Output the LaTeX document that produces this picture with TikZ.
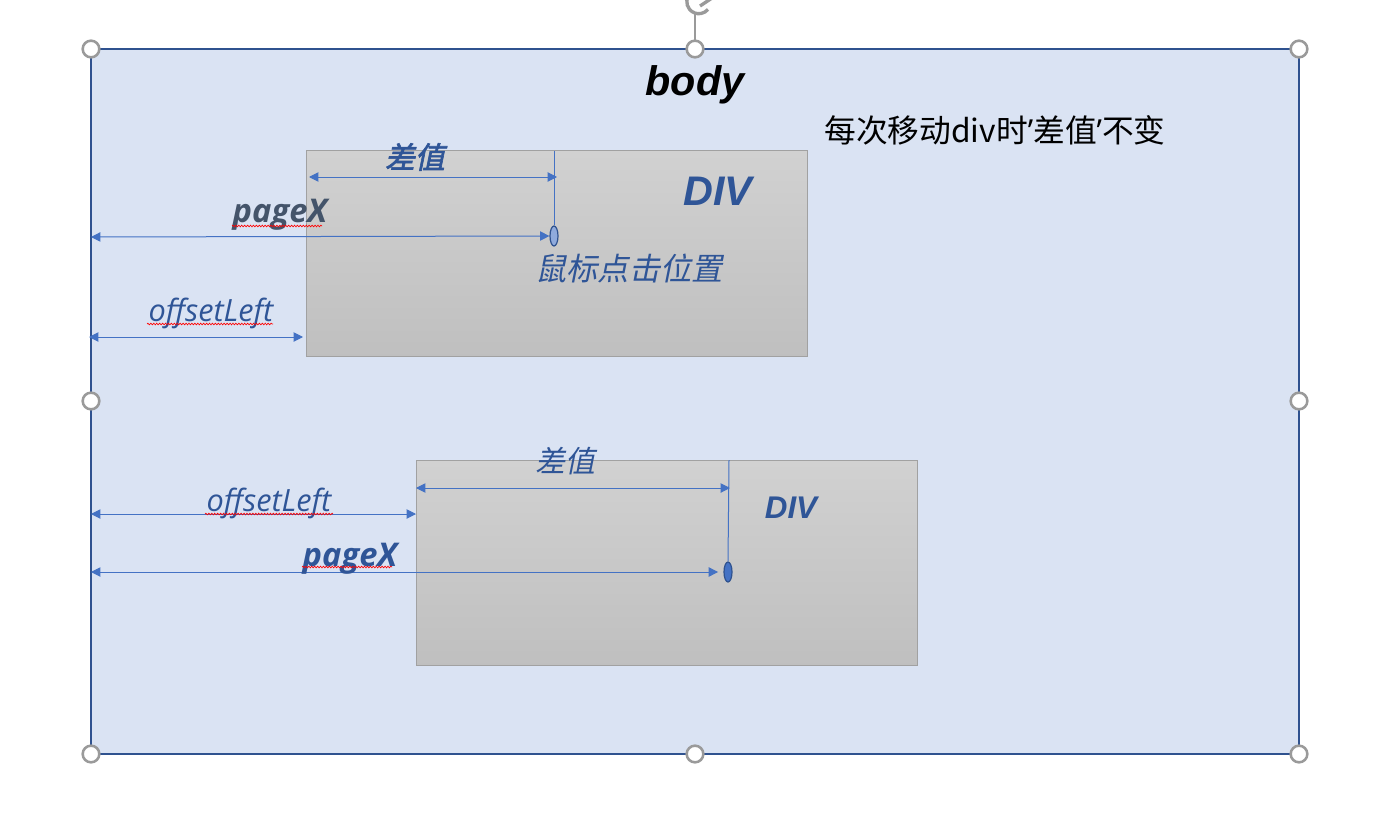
\documentclass[tikz,border=0pt]{standalone}
\usepackage{fontspec}
\usetikzlibrary{arrows.meta,decorations.pathmorphing,shapes.geometric}
\setmainfont{Open Sans}
\newfontfamily\cjk{Noto Sans CJK SC}
\newfontfamily\cjkit[FakeSlant=0.2]{Noto Sans CJK SC}
\newfontfamily\cjkbi[FakeSlant=0.2,FakeBold=2]{Noto Sans CJK SC}
\newfontfamily\lab{Open Sans}
\newfontfamily\divf{Liberation Sans}
\definecolor{bodyfill}{HTML}{DAE3F3}
\definecolor{bodyline}{HTML}{2F528F}
\definecolor{arrowc}{HTML}{4472C4}
\definecolor{labc}{HTML}{2F5597}
\definecolor{labg}{HTML}{44546A}
\definecolor{handlec}{HTML}{9A9A9A}
\tikzset{
  bodybox/.style={fill=bodyfill,draw=bodyline,line width=1.1pt},
  divbox/.style={top color=black!18,bottom color=black!25,draw=black!37,line width=0.75pt},
  handle/.style={circle,draw=handlec,fill=white,line width=1.9pt,minimum size=12.5pt,inner sep=0pt},
  dim/.style={draw=arrowc,line width=0.75pt,{Triangle[length=7pt,width=7pt]}-{Triangle[length=7pt,width=7pt]}},
  vline/.style={draw=arrowc,line width=0.75pt},
  clickpt/.style={ellipse,draw=bodyline,line width=0.9pt,minimum width=6pt,minimum height=15pt,inner sep=0pt},
  squig/.style={draw=red,line width=0.5pt,decorate,decoration={snake,segment length=2.2pt,amplitude=0.6pt}},
  cjklab/.style={inner sep=0pt,text=labc,font=\cjkit\fontsize{22.5}{26}\selectfont},
  cjkblab/.style={inner sep=0pt,text=labc,font=\cjkbi\fontsize{22.5}{26}\selectfont},
  offlab/.style={inner sep=0pt,anchor=base,text=labc,font=\lab\itshape\fontsize{23}{27}\selectfont},
  pxlab/.style={inner sep=0pt,anchor=base,font=\lab\bfseries\itshape\fontsize{24.5}{28}\selectfont},
}
\begin{document}
\begin{tikzpicture}[x=0.75pt,y=-0.75pt]
\useasboundingbox (0,0) rectangle (1394,831);
\fill[white] (0,0) rectangle (1394,831);
% rotation handle
\draw[handlec,line width=1.5pt] (695,49) -- (695,12);
\draw[handlec,line width=2.5pt] (708,-6) arc[start angle=-40,end angle=-320,radius=12];
\draw[handlec,line width=2.5pt] (700,6) -- (712,-2);
% body
\draw[bodybox] (91,49) rectangle (1299,754);
\node[inner sep=0pt,anchor=base,font=\divf\bfseries\itshape\fontsize{31}{34}\selectfont] (bodylab) at (695,96) {body};
\node[inner sep=0pt,font=\cjk\fontsize{23.8}{28}\selectfont,anchor=west] (note) at (824,130) {每次移动div时{\lab ’}差值{\lab ’}不变};
% top div
\draw[divbox] (306,151) rectangle (807,356);
\node[inner sep=0pt,anchor=base,text=labc,font=\divf\bfseries\itshape\fontsize{31}{34}\selectfont] (div1lab) at (718,205) {DIV};
\node[clickpt,fill=arrowc!60] (click1) at (554,236) {};
\coordinate (top1) at (554,151);
\draw[vline] (top1) -- (click1.north);
\coordinate (d1a) at (309,177);
\coordinate (d1b) at (557,177);
\draw[dim] (d1a) -- (d1b);
\node[cjkblab] (cz1) at (415,157) {差值};
\coordinate (p1a) at (91,237);
\draw[dim] (p1a) -- (click1.west);
\node[pxlab,text=labg] (px1) at (280,222) {pageX};
\draw[squig] (232,226) -- (322,226);
\coordinate (o1a) at (89,337);
\coordinate (o1b) at (303,337);
\draw[dim] (o1a) -- (o1b);
\node[offlab] (ol1) at (211,321) {offsetLeft};
\draw[squig] (147,324) -- (273,324);
\node[inner sep=0pt,text=labc,font=\cjkit\fontsize{23.5}{28}\selectfont] (clicklab) at (629,268) {鼠标点击位置};
% bottom div
\draw[divbox] (416,460) rectangle (917,665);
\node[inner sep=0pt,anchor=base,text=labc,font=\divf\bfseries\itshape\fontsize{23.5}{28}\selectfont] (div2lab) at (791,518) {DIV};
\node[clickpt,fill=arrowc] (click2) at (728,572) {};
\coordinate (top2) at (729,460);
\draw[vline] (top2) -- (click2.north);
\coordinate (d2a) at (416,488);
\coordinate (d2b) at (730,488);
\draw[dim] (d2a) -- (d2b);
\node[cjklab] (cz2) at (565,461) {差值};
\coordinate (o2a) at (91,514);
\coordinate (o2b) at (416,514);
\draw[dim] (o2a) -- (o2b);
\node[offlab] (ol2) at (269,511) {offsetLeft};
\draw[squig] (205,514) -- (333,514);
\coordinate (p2a) at (91,572);
\draw[dim] (p2a) -- ([xshift=-4pt]click2.west);
\node[pxlab,text=labc] (px2) at (350,566) {pageX};
\draw[squig] (302,567) -- (392,567);
% handles
\node[handle] (h1) at (91,49) {};
\node[handle] (h2) at (695,49) {};
\node[handle] (h3) at (1299,49) {};
\node[handle] (h4) at (91,401) {};
\node[handle] (h5) at (1299,401) {};
\node[handle] (h6) at (91,754) {};
\node[handle] (h7) at (695,754) {};
\node[handle] (h8) at (1299,754) {};
\end{tikzpicture}
\end{document}
